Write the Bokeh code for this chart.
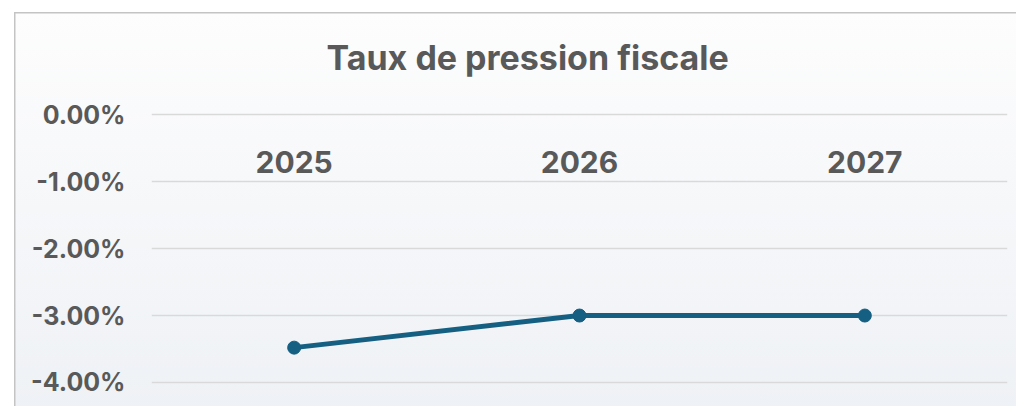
from bokeh.plotting import figure
from bokeh.models import Range1d, FixedTicker
from bokeh.core.properties import value
from bokeh.embed import file_html
from bokeh.resources import INLINE

# ---- data ----
years = ["2025", "2026", "2027"]
rates = [-3.48, -3.0, -3.0]
y_ticks = [0, -1, -2, -3, -4]
y_tick_labels = ["0.00%", "-1.00%", "-2.00%", "-3.00%", "-4.00%"]
title_text = "Taux de pression fiscale"

TXT = "#595959"
FONT = "Inter"

bg = ("linear-gradient(#c4c4c4,#c4c4c4) 14px 12px / 1.5px 100% no-repeat, "
      "linear-gradient(#c4c4c4,#c4c4c4) 14px 12px / 100% 1.5px no-repeat, "
      "linear-gradient(180deg, #fdfdfd 0%, #f7f8fa 40%, #eef1f5 100%) 14px 12px / 100% 100% no-repeat, "
      "#ffffff")

p = figure(
    x_range=years,
    y_range=Range1d(-4.36, 0.2),
    width=1016, height=406,
    output_backend="svg", toolbar_location=None,
    min_border_left=151, min_border_right=9,
    min_border_top=101, min_border_bottom=0,
    styles={"background": bg},
)
p.background_fill_alpha = 0
p.border_fill_alpha = 0
p.outline_line_color = None

# Title
p.title.text = title_text
p.title.align = "left"
p.title.text_font = FONT
p.title.text_font_style = "bold"
p.title.text_font_size = "34px"
p.title.text_color = TXT
p.title.offset = 175
p.title.standoff = 48

# Y axis
p.yaxis.ticker = FixedTicker(ticks=y_ticks)
p.yaxis.major_label_overrides = {t: l for t, l in zip(y_ticks, y_tick_labels)}
p.yaxis.axis_line_color = None
p.yaxis.major_tick_line_color = None
p.yaxis.minor_tick_line_color = None
p.yaxis.major_label_text_font = FONT
p.yaxis.major_label_text_font_style = "bold"
p.yaxis.major_label_text_font_size = "25px"
p.yaxis.major_label_text_color = TXT
p.yaxis.major_label_standoff = 20

# X axis hidden; labels drawn at the axis crossing (y=0)
p.xaxis.visible = False
p.xgrid.grid_line_color = None
p.ygrid.grid_line_color = "#d9d9d9"
p.ygrid.grid_line_width = 1.5

p.text(x=years, y=[0] * len(years), text=years,
       text_font=value(FONT), text_font_style="bold", text_font_size="30px",
       text_color=TXT, text_align="center", text_baseline="middle", y_offset=47)

LINE = "#155f82"
p.line(x=years, y=rates, line_color=LINE, line_width=5)
p.scatter(x=years, y=rates, size=13, fill_color=LINE, line_color=LINE)

open("out.html", "w").write(file_html(p, INLINE))
